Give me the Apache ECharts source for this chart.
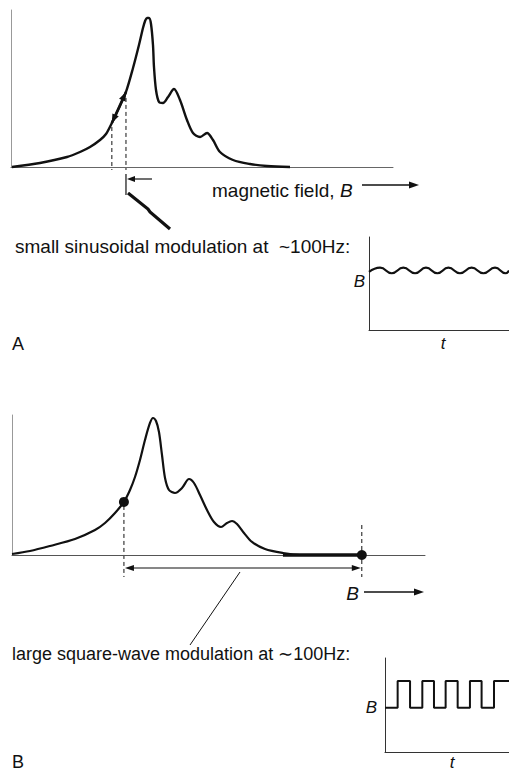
<!DOCTYPE html>
<html>
<head>
<meta charset="utf-8">
<script src="https://cdn.jsdelivr.net/npm/echarts@6/dist/echarts.min.js"></script>
<style>
html,body{margin:0;padding:0;background:#fff;}
#main{width:509px;height:774px;}
</style>
</head>
<body>
<div id="main"></div>
<script>
// A: absorption signal vs magnetic field (arbitrary units)
var fieldA  = [0.26, 7.59, 14.66, 18.06, 20.68, 23.3, 24.87, 26.4, 28.27, 30.1, 31.94, 33.5, 34.55, 35.1, 35.6, 36.13, 36.65, 37.17, 37.43, 37.96, 38.74, 39.79, 41.1, 42.67, 44.24, 46.07, 47.64, 49.48, 51.31, 52.88, 54.71, 58.12, 62.57, 67.02, 73.04];
var signalA = [0, 2.68, 6.69, 10.03, 13.38, 18.06, 22.07, 29.4, 39.46, 50.2, 66.22, 81.6, 92.98, 97.66, 99.67, 99.67, 95.65, 81.61, 66.89, 51.51, 43.48, 42.81, 46.82, 52.17, 44.82, 31.44, 22.74, 20.07, 22.74, 18.06, 10.03, 4.68, 2.01, 0.67, 0];
// small modulation range on the rising edge (field values)
var modA = [26.4, 30.1];

// B: same spectrum, square-wave modulated
var fieldB  = [0, 4.36, 9.2, 15.25, 20.1, 22.52, 24.94, 27.1, 28.57, 29.78, 30.99, 32.2, 33.41, 34.14, 34.87, 35.59, 36.32, 37.05, 38.01, 39.47, 41.16, 42.86, 44.07, 45.52, 47.22, 48.91, 50.61, 52.06, 53.27, 54.48, 56.17, 58.11, 61.26, 65.62, 69.73, 84.7];
var signalB = [0.71, 2.86, 6.43, 11.43, 17.86, 22.86, 30.0, 37.9, 46.43, 55.71, 67.86, 82.14, 94.29, 97.86, 95.71, 87.86, 71.43, 55.0, 46.43, 44.29, 47.86, 54.29, 51.43, 42.86, 32.14, 23.57, 20.0, 22.86, 24.29, 22.14, 15.71, 9.29, 4.29, 1.43, 0, 0];
var flatB = [65.6, 84.7];          // thick flat part of trace
var dotField  = [27.1, 84.7];      // the two square-wave field values
var dotSignal = [37.9, 0];

// insets: B(t)
var sinT = [0, 0.79, 1.62, 2.45, 3.29, 4.07, 4.88, 5.67, 6.5, 7.33, 8.17, 9.0, 9.75, 10];
var sinB = [6.24, 6.7, 6.1, 6.7, 6.1, 6.7, 6.1, 6.7, 6.1, 6.7, 6.1, 6.7, 6.1, 6.4];
var sqT = [0, 1.02, 2.02, 3.01, 3.95, 4.89, 5.86, 6.85, 7.79, 8.79, 10];
var sqB = [4.7, 7.55, 4.7, 7.55, 4.7, 7.55, 4.7, 7.55, 4.7, 7.55, 7.55];

function pairs(xs, ys) { return xs.map(function (x, i) { return [x, ys[i]]; }); }

var FONT = '"Liberation Sans", Arial, Helvetica, sans-serif';
var INK = '#111';

function axis(g, max, col) {
    return {
        type: 'value', gridIndex: g, min: 0, max: max,
        axisLine: {show: true, onZero: false, lineStyle: {color: col, width: 1}},
        axisTick: {show: false}, axisLabel: {show: false}, splitLine: {show: false}
    };
}

var chart = echarts.init(document.getElementById('main'), null, {renderer: 'svg'});

var option = {
    animation: false,
    backgroundColor: '#fff',
    grid: [
        {left: 11, top: 10, width: 382, height: 157},
        {left: 12, top: 415, width: 413, height: 140},
        {left: 369, top: 237, width: 140, height: 93},
        {left: 385, top: 658, width: 124, height: 94}
    ],
    xAxis: [axis(0, 100, '#666'), axis(1, 100, '#555'), axis(2, 10, '#333'), axis(3, 10, '#333')],
    yAxis: [axis(0, 105, '#999'), axis(1, 100, '#999'), axis(2, 10, '#333'), axis(3, 10, '#333')],
    series: [
        {type: 'line', xAxisIndex: 0, yAxisIndex: 0, data: pairs(fieldA, signalA), smooth: 0.3,
         showSymbol: false, clip: false, silent: true, lineStyle: {color: INK, width: 2.4}},
        {type: 'line', xAxisIndex: 1, yAxisIndex: 1, data: pairs(fieldB, signalB), smooth: 0.3,
         showSymbol: false, clip: false, silent: true, lineStyle: {color: INK, width: 2.2}},
        {type: 'line', xAxisIndex: 1, yAxisIndex: 1, data: pairs(flatB, [0, 0]),
         showSymbol: false, clip: false, silent: true, lineStyle: {color: INK, width: 3.4}},
        {type: 'scatter', xAxisIndex: 1, yAxisIndex: 1, data: pairs(dotField, dotSignal),
         symbolSize: 10, clip: false, silent: true, itemStyle: {color: INK, opacity: 1}},
        {type: 'line', xAxisIndex: 2, yAxisIndex: 2, data: pairs(sinT, sinB), smooth: 0.5,
         showSymbol: false, clip: false, silent: true, lineStyle: {color: INK, width: 2.2}},
        {type: 'line', xAxisIndex: 3, yAxisIndex: 3, data: pairs(sqT, sqB), step: 'end',
         showSymbol: false, clip: false, silent: true, lineStyle: {color: INK, width: 2}}
    ]
};
chart.setOption(option);

// annotations
function px(g, x, y) { return chart.convertToPixel({gridIndex: g}, [x, y]); }
function seg(a, b, w, dash) {
    return {type: 'line', silent: true, shape: {x1: a[0], y1: a[1], x2: b[0], y2: b[1]},
            style: {stroke: INK, lineWidth: w, lineDash: dash || null}};
}
function head(tip, from, len, half) {
    var dx = tip[0] - from[0], dy = tip[1] - from[1], d = Math.sqrt(dx * dx + dy * dy);
    var ux = dx / d, uy = dy / d, bx = tip[0] - ux * len, by = tip[1] - uy * len;
    return {type: 'polygon', silent: true,
            shape: {points: [[tip[0], tip[1]], [bx - uy * half, by + ux * half], [bx + uy * half, by - ux * half]]},
            style: {fill: INK}};
}
function txt(s, x, y, size, opts) {
    opts = opts || {};
    return {type: 'text', silent: true, style: {
        text: s, x: x, y: y, fill: INK, fontSize: size, fontFamily: FONT,
        fontStyle: opts.italic ? 'italic' : 'normal', align: opts.align || 'left', verticalAlign: 'middle'}};
}

var g = [];
// A: modulation on the rising edge
var lo = px(0, modA[0], signalA[fieldA.indexOf(modA[0])]);
var hi = px(0, modA[1], signalA[fieldA.indexOf(modA[1])]);
g.push(seg([lo[0], lo[1] + 4], [lo[0], 170], 1, [4, 3]));
g.push(seg([hi[0], hi[1] + 6], [hi[0], 170], 1, [4, 3]));
g.push(seg([hi[0], 174], [hi[0], 195], 1.2));
g.push(seg([hi[0] + 26, 179], [hi[0] + 4, 179], 1.2));
g.push(head([hi[0] + 1, 179], [hi[0] + 26, 179], 8, 3));
g.push(seg(lo, hi, 2.6));
g.push(head(hi, lo, 9, 3.5));
g.push(head(lo, hi, 9, 3.5));
g.push({type: 'polyline', silent: true, shape: {points: [[128, 193], [148, 209], [150, 212], [170, 229]]},
        style: {stroke: INK, lineWidth: 3.2, fill: null}});
g.push(txt('magnetic field,', 212, 190.5, 19));
g.push(txt('B', 340, 190.5, 19, {italic: true}));
g.push(seg([362, 185], [412, 185], 1.5));
g.push(head([419, 185], [362, 185], 10, 3.5));
g.push(txt('small sinusoidal modulation at  ~100Hz:', 15, 246, 19));
g.push(txt('B', 365, 281, 17, {italic: true, align: 'right'}));
g.push(txt('t', 443, 343, 17, {italic: true, align: 'center'}));
g.push(txt('A', 12, 344, 18));

// B: square-wave modulation between the two dots
var d1 = px(1, dotField[0], dotSignal[0]);
var d2 = px(1, dotField[1], dotSignal[1]);
g.push(seg([d1[0], d1[1] + 4], [d1[0], 577], 1, [4, 3]));
g.push(seg([d2[0], 525], [d2[0], 577], 1, [4, 3]));
g.push(seg([d1[0] + 6, 568], [d2[0] - 6, 568], 1.2));
g.push(head([d1[0] + 1, 568], [d2[0], 568], 9, 3));
g.push(head([d2[0] - 1, 568], [d1[0], 568], 9, 3));
g.push(seg([240, 572], [190, 645], 1));
g.push(txt('B', 359, 593, 19, {italic: true, align: 'right'}));
g.push(seg([364, 592], [416, 592], 1.5));
g.push(head([424, 592], [364, 592], 10, 3.5));
g.push(txt('large square-wave modulation at \u223c100Hz:', 12, 653.5, 18));
g.push(txt('B', 377, 707, 17, {italic: true, align: 'right'}));
g.push(txt('t', 452, 762, 17, {italic: true, align: 'center'}));
g.push(txt('B', 12, 762, 18));

chart.setOption({graphic: g});
</script>
</body>
</html>
